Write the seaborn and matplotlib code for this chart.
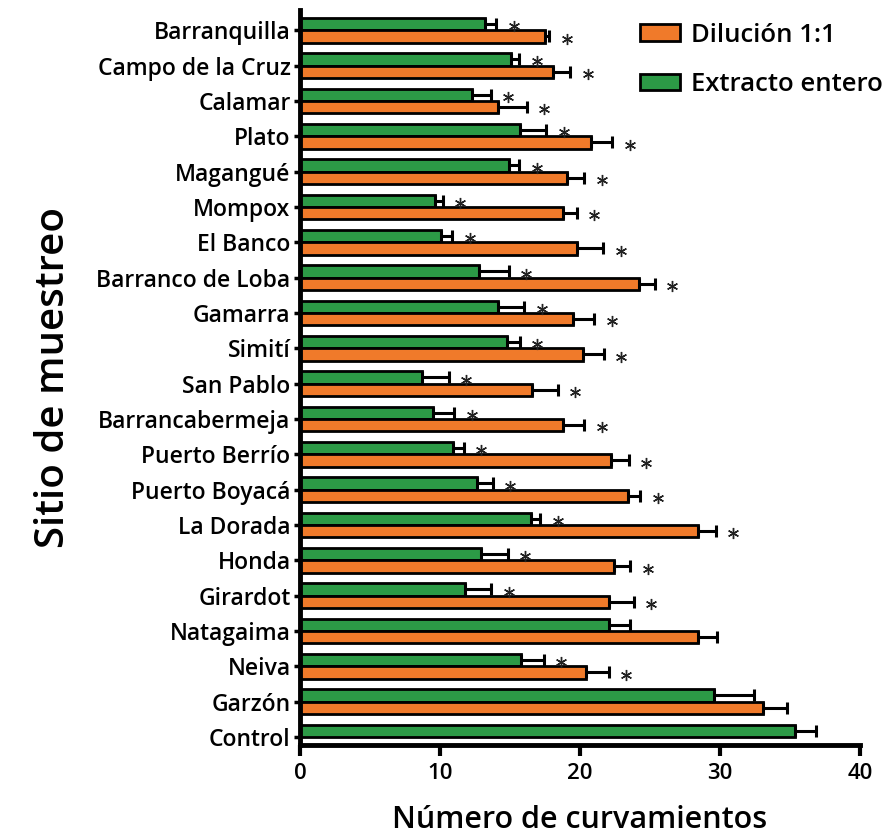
import numpy as np
import pandas as pd
import matplotlib
matplotlib.use("Agg")
import matplotlib.pyplot as plt
from matplotlib.patches import Patch
import seaborn as sns

# Sampling sites (top to bottom)
sites = ["Barranquilla", "Campo de la Cruz", "Calamar", "Plato", "Magangué",
         "Mompox", "El Banco", "Barranco de Loba", "Gamarra", "Simití",
         "San Pablo", "Barrancabermeja", "Puerto Berrío", "Puerto Boyacá",
         "La Dorada", "Honda", "Girardot", "Natagaima", "Neiva", "Garzón",
         "Control"]

# Mean number of bendings and error (positive side only)
extracto = [13.2, 15.1, 12.3, 15.7, 14.9, 9.6, 10.05, 12.8, 14.1, 14.8,
            8.7, 9.5, 10.95, 12.6, 16.5, 12.9, 11.8, 22.1, 15.8, 29.6, 35.4]
extracto_err = [0.8, 0.55, 1.3, 1.9, 0.75, 0.6, 0.8, 2.1, 1.9, 0.9,
                1.9, 1.5, 0.75, 1.15, 0.65, 1.95, 1.85, 1.5, 1.6, 2.8, 1.45]
dilucion = [17.5, 18.1, 14.1, 20.8, 19.1, 18.8, 19.8, 24.2, 19.5, 20.2,
            16.6, 18.8, 22.2, 23.4, 28.4, 22.4, 22.1, 28.4, 20.4, 33.1, np.nan]
dilucion_err = [0.3, 1.2, 2.1, 1.5, 1.2, 0.95, 1.85, 1.15, 1.5, 1.5,
                1.8, 1.5, 1.3, 0.9, 1.3, 1.2, 1.75, 1.4, 1.65, 1.7, np.nan]
# Significant difference vs. control
significativo = [True] * 17 + [False, True, False, False]

groups = ["Extracto entero", "Dilución 1:1"]
colors = {"Extracto entero": "#2C9A46", "Dilución 1:1": "#F07A2A"}

df = pd.DataFrame({
    "site": sites * 2,
    "value": extracto + dilucion,
    "err": extracto_err + dilucion_err,
    "sig": significativo * 2,
    "group": [groups[0]] * len(sites) + [groups[1]] * len(sites),
}).dropna(subset=["value"])

sns.set_theme(style="ticks")
plt.rcParams["font.family"] = ["Open Sans", "DejaVu Sans"]
plt.rcParams["text.color"] = "black"
plt.rcParams["axes.labelcolor"] = "black"

fig = plt.figure(figsize=(8.91, 8.40), dpi=100)
ax = fig.add_axes([0.337, 0.113, 0.628, 0.875])

sns.barplot(data=df, x="value", y="site", hue="group", hue_order=groups,
            order=sites, palette=colors, saturation=1, orient="h",
            errorbar=None, width=0.7, edgecolor="black", linewidth=2,
            legend=False, ax=ax)

# Error bars and significance marks, positioned from the drawn bars
for p in ax.patches:
    yc = p.get_y() + p.get_height() / 2
    i = int(round(yc))
    grp = groups[0] if yc < i else groups[1]
    row = df[(df["site"] == sites[i]) & (df["group"] == grp)].iloc[0]
    ax.errorbar(row["value"], yc, xerr=[[0], [row["err"]]], fmt="none",
                ecolor="black", elinewidth=2.2, capsize=4, capthick=2.2,
                zorder=3)
    if row["sig"]:
        ax.plot(row["value"] + row["err"] + 1.25, yc + 0.06,
                marker=(6, 2, 0), markersize=8, markeredgewidth=1.0,
                color="#222222", linestyle="none", zorder=4)

ax.set_xlim(0, 40)
ax.set_ylim(20.23, -0.57)
ax.set_xticks([0, 10, 20, 30, 40])
ax.tick_params(axis="x", labelsize=16, width=3, length=8, pad=5,
               colors="black")
ax.tick_params(axis="y", labelsize=16.5, width=2.5, length=4, pad=3,
               colors="black")
for lab in ax.get_yticklabels() + ax.get_xticklabels():
    lab.set_fontweight("semibold")

ax.set_xlabel("Número de curvamientos", fontsize=22, fontweight="semibold",
              labelpad=15)
ax.set_ylabel("Sitio de muestreo", fontsize=29, fontweight="semibold",
              labelpad=16)

sns.despine(ax=ax)
for s in ("left", "bottom"):
    ax.spines[s].set_linewidth(3.5)
    ax.spines[s].set_color("black")

handles = [Patch(facecolor=colors["Dilución 1:1"], edgecolor="black",
                 linewidth=2, label="Dilución 1:1"),
           Patch(facecolor=colors["Extracto entero"], edgecolor="black",
                 linewidth=2, label="Extracto entero")]
leg = fig.legend(handles=handles, loc="upper left",
                 bbox_to_anchor=(0.718, 0.973), frameon=False,
                 borderpad=0, borderaxespad=0,
                 prop={"family": "Open Sans", "weight": "semibold",
                       "size": 18.5},
                 handlelength=1.55, handleheight=0.6, labelspacing=0.95,
                 handletextpad=0.45)

fig.savefig("out.png", dpi=100, facecolor="white")
